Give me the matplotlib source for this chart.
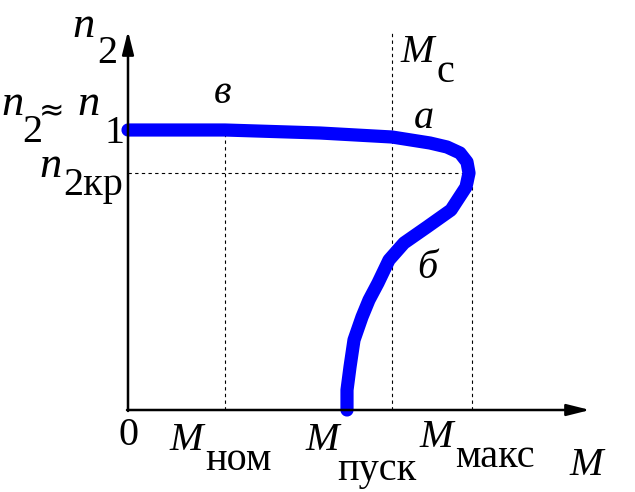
import matplotlib
matplotlib.use("Agg")
from matplotlib import pyplot as plt

plt.rcParams['font.family'] = ['Liberation Serif', 'DejaVu Serif']

# mechanical characteristic n2(M), units ~ 1 per 100 px
M_curve = [0.0, 0.97, 1.92, 2.64, 3.02, 3.19, 3.32, 3.39, 3.41, 3.38, 3.23,
           2.99, 2.76, 2.61, 2.50, 2.41, 2.34, 2.26, 2.22, 2.19, 2.19]
n_curve = [2.80, 2.80, 2.77, 2.73, 2.67, 2.63, 2.57, 2.48, 2.37, 2.23, 2.00,
           1.83, 1.67, 1.50, 1.27, 1.10, 0.93, 0.70, 0.43, 0.20, 0.0]

M_nom = 0.97
M_pusk = 2.19
M_c = 2.64
M_maks = 3.44
n1 = 2.80
n2kr = 2.37

fig = plt.figure(figsize=(6.35, 4.92), dpi=100)
ax = fig.add_axes([0, 0, 1, 1])
ax.set_xlim(-1.28, 5.07)
ax.set_ylim(-0.82, 4.10)
ax.axis('off')

# dotted guide lines
dot = dict(color='black', lw=0.8, ls=(0, (3, 3)))
ax.plot([M_nom, M_nom], [0, n1], **dot)
ax.plot([M_c, M_c], [0, 3.79], **dot)
ax.plot([M_maks, M_maks], [0, n2kr], **dot)
ax.plot([0, M_maks], [n2kr, n2kr], **dot)

# axes with arrows
arr = dict(arrowstyle='-|>,head_length=1.4,head_width=0.35', color='black',
           lw=1.8, shrinkA=0, shrinkB=0)
ax.annotate('', xy=(0, 3.79), xytext=(0, -0.01), arrowprops=arr)
ax.annotate('', xy=(4.62, 0), xytext=(-0.01, 0), arrowprops=arr)

ax.plot(M_curve, n_curve, color='#0000ff', lw=9.5, solid_capstyle='round',
        solid_joinstyle='round')

fs = 29
it = dict(fontsize=fs, style='italic', va='baseline')
itn = dict(fontsize=32, style='italic', va='baseline')
rm = dict(fontsize=fs, va='baseline')

# y labels
ax.text(-0.56, 3.73, 'n', ha='left', **itn)
ax.text(-0.31, 3.47, '2', ha='left', **rm)
ax.text(-1.27, 2.95, 'n', ha='left', **itn)
ax.text(-1.06, 2.68, '2', ha='left', **rm)
ax.text(-0.89, 2.90, '\u2248', ha='left', fontsize=22, va='baseline',
        family='DejaVu Sans')
ax.text(-0.51, 2.95, 'n', ha='left', **itn)
ax.text(-0.23, 2.67, '1', ha='left', **rm)
ax.text(-0.89, 2.33, 'n', ha='left', **itn)
ax.text(-0.65, 2.15, '2кр', ha='left', **rm)

# curve labels
ax.text(0.95, 3.07, 'в', ha='center', **it)
ax.text(2.96, 2.82, 'а', ha='center', **it)
ax.text(2.99, 1.32, 'б', ha='center', **it)
ax.text(2.72, 3.48, 'M', ha='left', **it)
ax.text(3.09, 3.28, 'с', ha='left', **rm)

# x labels
ax.text(0.0, -0.35, '0', ha='center', **rm)
ax.text(0.41, -0.40, 'M', ha='left', **it)
ax.text(0.77, -0.60, 'ном', ha='left', **rm)
ax.text(1.77, -0.40, 'M', ha='left', **it)
ax.text(2.09, -0.70, 'пуск', ha='left', **rm)
ax.text(2.91, -0.37, 'M', ha='left', **it)
ax.text(3.27, -0.57, 'макс', ha='left', **rm)
ax.text(4.41, -0.65, 'M', ha='left', **it)

fig.savefig('out.png', dpi=100)
